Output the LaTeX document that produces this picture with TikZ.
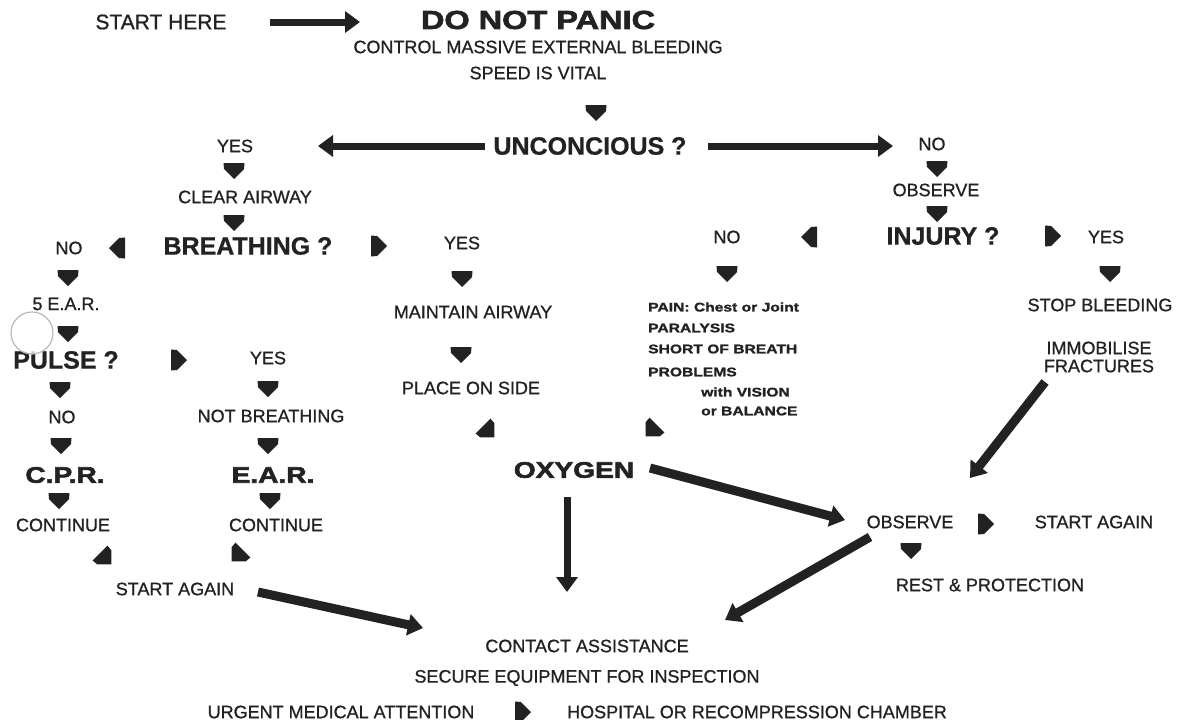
\documentclass[tikz,border=0pt]{standalone}
\usepackage{fontspec}
\setmainfont{Liberation Sans}
\newfontfamily\reg[FakeBold=0.9]{Liberation Sans}
\newfontfamily\bld[FakeBold=0.8]{Liberation Sans Bold}
\newfontfamily\heavy[FakeStretch=1.25,FakeBold=2.5]{Liberation Sans Bold}
\newfontfamily\symf[FakeStretch=1.25,FakeBold=1.5]{Liberation Sans Bold}
\usetikzlibrary{arrows.meta}
\definecolor{ink}{HTML}{222222}
\tikzset{
 lbl/.style={text=ink, inner sep=0pt, font=\reg\fontsize{18}{20}\selectfont},
 big/.style={text=ink, inner sep=0pt, font=\bld\fontsize{25}{28}\selectfont},
 hv/.style={text=ink, inner sep=0pt, font=\heavy\fontsize{22.5}{26}\selectfont},
 sym/.style={text=ink, inner sep=0pt, anchor=west, font=\symf\fontsize{12.5}{14}\selectfont},
 fat/.style={draw=ink, line width=#1, -{Triangle[length=15pt,width=21pt]}},
 mk/.pic={\fill[ink] (-7,-10.5) -- (-1,-10) -- (9,0) -- (-1,10) -- (-7,10.5) -- cycle;}
}
\begin{document}
\begin{tikzpicture}[x=1pt,y=-1pt]
\useasboundingbox[fill=white] (0,0) rectangle (1178,720);
% texts
\node[lbl,font=\reg\fontsize{21}{24}\selectfont] (start) at (161,22) {START HERE};
\node[hv,font=\heavy\fontsize{26}{28}\selectfont] (panic) at (538,20) {DO NOT PANIC};
\node[lbl] (control) at (538,47) {CONTROL MASSIVE EXTERNAL BLEEDING};
\node[lbl] (speed) at (538,73) {SPEED IS VITAL};
\node[big] (unc) at (590,146) {UNCONCIOUS ?};
\node[lbl] (yes1) at (235,146) {YES};
\node[lbl] (no1) at (932,144) {NO};
\node[lbl] (clear) at (245,197) {CLEAR AIRWAY};
\node[big] (breath) at (248,246) {BREATHING ?};
\node[lbl] (no2) at (69,248) {NO};
\node[lbl] (yes2) at (462,243) {YES};
\node[lbl] (obs1) at (936,190) {OBSERVE};
\node[big] (injury) at (943,236) {INJURY ?};
\node[lbl] (no3) at (727,237) {NO};
\node[lbl] (yes3) at (1106,237) {YES};
\node[lbl] (ear5) at (66,304) {5 E.A.R.};
\node[lbl] (maintain) at (473,312) {MAINTAIN AIRWAY};
\node[sym] (s1) at (648,307) {PAIN: Chest or Joint};
\node[sym] (s2) at (648,328) {PARALYSIS};
\node[sym] (s3) at (648,349) {SHORT OF BREATH};
\node[sym] (s4) at (648,372) {PROBLEMS};
\node[sym] (s5) at (701,392) {with VISION};
\node[sym] (s6) at (701,411) {or BALANCE};
\node[lbl] (stop) at (1100,305) {STOP BLEEDING};
\node[lbl,align=center,font=\reg\fontsize{18}{18}\selectfont] (immob) at (1099,357) {IMMOBILISE\\FRACTURES};
\node[big] (pulse) at (66,360) {PULSE ?};
\node[lbl] (yes4) at (268,358) {YES};
\node[lbl] (place) at (471,388) {PLACE ON SIDE};
\node[lbl] (no4) at (62,417) {NO};
\node[lbl] (notb) at (271,416) {NOT BREATHING};
\node[hv] (cpr) at (65,475) {C.P.R.};
\node[hv] (ear) at (273,475) {E.A.R.};
\node[hv] (oxy) at (574,470) {OXYGEN};
\node[lbl] (cont1) at (63,525) {CONTINUE};
\node[lbl] (cont2) at (276,525) {CONTINUE};
\node[lbl] (obs2) at (910,522) {OBSERVE};
\node[lbl] (again2) at (1094,522) {START AGAIN};
\node[lbl] (rest) at (990,585) {REST \& PROTECTION};
\node[lbl] (again1) at (175,589) {START AGAIN};
\node[lbl] (contact) at (587,646) {CONTACT ASSISTANCE};
\node[lbl] (secure) at (587,678) {SECURE EQUIPMENT FOR INSPECTION};
\node[lbl] (urgent) at (341,712) {URGENT MEDICAL ATTENTION};
\node[lbl] (hosp) at (757,712) {HOSPITAL OR RECOMPRESSION CHAMBER};
% scan artefact ring
\draw[gray!55, line width=1.2pt, fill=white, fill opacity=0.8] (32,333) circle[radius=21];
% small markers
\path (596,112) pic[rotate=-90]{mk};
\path (234,170) pic[rotate=-90]{mk};
\path (234,222) pic[rotate=-90]{mk};
\path (118,248) pic[rotate=180]{mk};
\path (378,246) pic{mk};
\path (937,168) pic[rotate=-90]{mk};
\path (937,213) pic[rotate=-90]{mk};
\path (810,237) pic[rotate=180]{mk};
\path (1052,236) pic{mk};
\path (68,277) pic[rotate=-90]{mk};
\path (462,278) pic[rotate=-90]{mk};
\path (727,273) pic[rotate=-90]{mk};
\path (1110,273) pic[rotate=-90]{mk};
\path (68,333) pic[rotate=-90]{mk};
\path (178,360) pic{mk};
\path (461,354) pic[rotate=-90]{mk};
\path (60,389) pic[rotate=-90]{mk};
\path (268,388) pic[rotate=-90]{mk};
\path (61,445) pic[rotate=-90]{mk};
\path (268,445) pic[rotate=-90]{mk};
\path (488,431) pic[rotate=-45]{mk};
\path (652,430) pic[rotate=-135]{mk};
\path (59,500) pic[rotate=-90]{mk};
\path (270,500) pic[rotate=-90]{mk};
\path (105,558) pic[rotate=-45]{mk};
\path (238,555) pic[rotate=-135]{mk};
\path (985,524) pic{mk};
\path (911,550) pic[rotate=-90]{mk};
\path (522,712) pic{mk};
% long arrows
\coordinate (a1s) at (270,22); \coordinate (a1e) at (360,22);
\coordinate (a2s) at (485,146); \coordinate (a2e) at (318,146);
\coordinate (a3s) at (708,146); \coordinate (a3e) at (893,146);
\coordinate (a4s) at (650,468); \coordinate (a4e) at (845,520);
\coordinate (a5s) at (567,497); \coordinate (a5e) at (567,592);
\coordinate (a6s) at (258,592); \coordinate (a6e) at (423,628);
\coordinate (a7s) at (1045,382); \coordinate (a7e) at (970,478);
\coordinate (a8s) at (870,537); \coordinate (a8e) at (725,620);
\draw[fat=7pt] (a1s) -- (a1e);
\draw[fat=7pt] (a2s) -- (a2e);
\draw[fat=7pt] (a3s) -- (a3e);
\draw[fat=9pt] (a4s) -- (a4e);
\draw[fat=7pt] (a5s) -- (a5e);
\draw[fat=9pt] (a6s) -- (a6e);
\draw[fat=9pt] (a7s) -- (a7e);
\draw[fat=9pt] (a8s) -- (a8e);
\end{tikzpicture}
\end{document}
